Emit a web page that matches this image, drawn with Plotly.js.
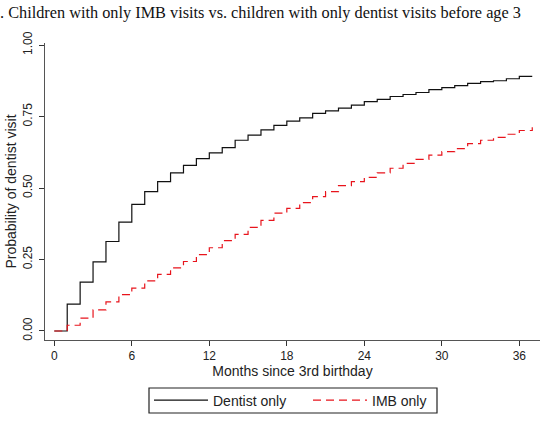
<!DOCTYPE html>
<html>
<head>
<meta charset="utf-8">
<script src="https://cdn.plot.ly/plotly-3.0.1.min.js"></script>
<style>
  html, body { margin: 0; padding: 0; background: #fff; }
  #chart { width: 549px; height: 421px; }
</style>
</head>
<body>
<div id="chart"></div>
<script>
// Months since the 3rd birthday
const months = [0,1,2,3,4,5,6,7,8,9,10,11,12,13,14,15,16,17,18,19,20,21,22,23,24,25,26,27,28,29,30,31,32,33,34,35,36,37];

// Cumulative probability of a dentist visit (Kaplan-Meier style steps)
const dentistOnly = [0,0.094,0.171,0.242,0.313,0.381,0.443,0.487,0.522,0.553,0.579,0.603,0.623,0.641,0.667,0.685,0.703,0.719,0.734,0.745,0.761,0.770,0.779,0.790,0.802,0.810,0.820,0.827,0.834,0.844,0.851,0.858,0.866,0.872,0.875,0.882,0.890,0.890];
const imbOnly = [0,0.020,0.045,0.074,0.102,0.127,0.150,0.175,0.198,0.221,0.243,0.267,0.291,0.316,0.338,0.362,0.387,0.412,0.429,0.449,0.470,0.487,0.508,0.522,0.537,0.553,0.569,0.586,0.600,0.615,0.627,0.638,0.655,0.667,0.677,0.688,0.701,0.712];

const xTicks = [0,6,12,18,24,30,36];
const yTicks = [0,0.25,0.5,0.75,1];
const yTickLabels = ["0.00","0.25","0.50","0.75","1.00"];

const titleText = ". Children with only IMB visits vs. children with only dentist visits before age 3";

const traces = [
  {
    x: months, y: dentistOnly, name: "Dentist only",
    type: "scatter", mode: "lines", legend: "legend",
    line: { shape: "hv", color: "#111111", width: 1.2 }
  },
  {
    x: months, y: imbOnly, name: "IMB only",
    type: "scatter", mode: "lines", legend: "legend2",
    line: { shape: "hv", color: "#e8141c", width: 1.2, dash: "8px,5px" }
  }
];

const tickFont = { family: "Liberation Sans, Arial, sans-serif", size: 12, color: "#222" };
const labelFont = { family: "Liberation Sans, Arial, sans-serif", size: 14, color: "#222" };

// plot area in pixels: x 45..540, y 43..340
const plotL = 45, plotW = 495, plotB = 340, plotH = 297;
const px = v => (v - plotL) / plotW;
const py = v => (plotB - v) / plotH;

const legendCommon = {
  orientation: "h", xanchor: "left", yanchor: "middle",
  y: py(400.5), borderwidth: 0, bgcolor: "rgba(0,0,0,0)",
  font: labelFont, itemwidth: 54
};

const layout = {
  width: 549, height: 421,
  margin: { l: 45, r: 9, t: 43, b: 81, autoexpand: false },
  paper_bgcolor: "#fff", plot_bgcolor: "#fff",
  title: {
    text: titleText,
    font: { family: "Liberation Serif, Times New Roman, serif", size: 16.3, color: "#111" },
    x: 0, xref: "paper", xanchor: "left",
    y: 0.985, yanchor: "top",
    pad: { l: -45 }
  },
  xaxis: {
    range: [-0.72, 37.6],
    tickvals: xTicks, ticktext: xTicks.map(String),
    ticks: "outside", ticklen: 5, tickcolor: "#333",
    showline: true, linecolor: "#555", linewidth: 1,
    showgrid: false, zeroline: false,
    tickfont: tickFont,
    title: { text: "Months since 3rd birthday", font: labelFont, standoff: 0 }
  },
  yaxis: {
    range: [-0.0315, 1.007],
    tickvals: yTicks, ticktext: yTickLabels,
    tickangle: -90,
    ticks: "outside", ticklen: 5, tickcolor: "#333",
    ticklabelstandoff: 2,
    showline: true, linecolor: "#555", linewidth: 1,
    showgrid: false, zeroline: false,
    tickfont: tickFont,
    title: { text: "Probability of dentist visit", font: labelFont, standoff: 1 }
  },
  showlegend: true,
  legend: Object.assign({}, legendCommon, { x: px(149) }),
  legend2: Object.assign({}, legendCommon, { x: px(308) }),
  // frame around both legend entries
  shapes: [{
    type: "rect", xref: "paper", yref: "paper",
    x0: px(149), x1: px(437), y0: py(413), y1: py(388),
    line: { color: "#222", width: 1.2 }, fillcolor: "rgba(0,0,0,0)"
  }]
};

Plotly.newPlot("chart", traces, layout, { displayModeBar: false, staticPlot: true });
</script>
</body>
</html>
